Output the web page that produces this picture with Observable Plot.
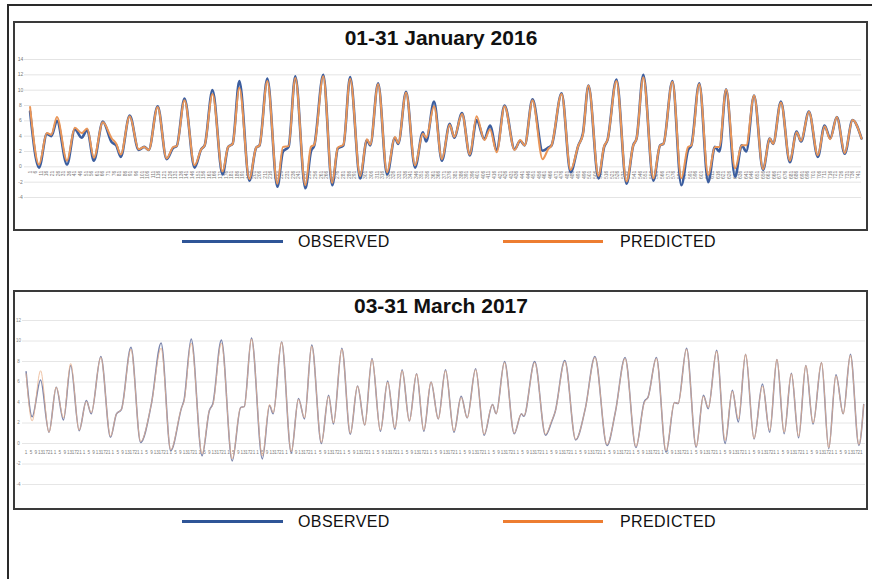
<!DOCTYPE html>
<html><head><meta charset="utf-8">
<script src="https://cdn.jsdelivr.net/npm/d3@7"></script>
<script src="https://cdn.jsdelivr.net/npm/@observablehq/plot@0.6"></script>
<style>
body{margin:0;background:#fff;font-family:"Liberation Sans",Arial,sans-serif}
#page{position:relative;width:872px;height:579px;overflow:hidden;background:#fff}
.abs{position:absolute}
.frameL{left:7px;top:4px;width:2px;height:580px;background:#2a2a2a}
.frameT{left:7px;top:4px;width:870px;height:2px;background:#2a2a2a}
.panel{left:13px;width:851px;border:2px solid #3a3a3a;background:#fff}
.title{left:14px;width:854px;text-align:center;font-weight:bold;font-size:21px;line-height:21px;color:#111}
.leg{font-size:16px;line-height:16px;letter-spacing:0.4px;color:#111}
.sw{height:3px}
.chart{left:14px}
.chart svg{overflow:visible}
</style></head>
<body><div id="page">
<div class="abs frameL"></div><div class="abs frameT"></div>
<div class="abs panel" style="top:21px;height:206px"></div>
<div class="abs panel" style="top:290px;height:216px"></div>
<div class="abs title" style="top:27px">01-31 January 2016</div>
<div class="abs title" style="top:295px">03-31 March 2017</div>
<div class="abs chart" id="c1" style="top:22px"></div>
<div class="abs chart" id="c2" style="top:292px"></div>
<div class="abs sw" style="left:182px;top:240px;width:101px;background:#2f5597"></div>
<div class="abs leg" style="left:298px;top:234px">OBSERVED</div>
<div class="abs sw" style="left:503px;top:240px;width:100px;background:#ed7d31"></div>
<div class="abs leg" style="left:620px;top:234px">PREDICTED</div>
<div class="abs sw" style="left:182px;top:520px;width:101px;background:#2f5597"></div>
<div class="abs leg" style="left:298px;top:514px">OBSERVED</div>
<div class="abs sw" style="left:503px;top:520px;width:100px;background:#ed7d31"></div>
<div class="abs leg" style="left:620px;top:514px">PREDICTED</div>
</div>
<script>
// ---- January 2016 (hourly index) ----
const janHours = [0,8,15,19,24,33,40,46,51,57,65,73,77,81,89,97,102,106,114,122,128,131,138,147,153,156,163,172,177,181,187,196,202,205,212,221,226,231,237,246,251,254,262,270,275,280,286,295,301,304,311,319,326,329,336,344,351,354,361,368,375,379,386,393,399,406,411,417,424,433,438,442,449,458,463,466,475,483,490,494,499,508,513,516,524,533,539,542,548,557,563,566,574,582,588,591,598,606,612,616,622,630,636,640,647,655,661,664,671,679,685,689,696,704,710,715,721,728,735,743];
const janObserved = [7.2,-0.1,4.3,4.0,6.0,0.3,4.9,3.8,4.8,0.8,5.9,3.2,2.8,1.3,6.7,2.2,2.6,2.2,7.9,1.0,2.5,2.7,8.9,-0.1,2.3,2.8,10.0,-1.0,2.6,3.0,11.2,-1.8,2.5,2.8,11.5,-2.6,2.0,2.6,11.8,-2.8,2.0,2.8,12.0,-2.4,2.4,2.8,11.7,-1.5,3.5,2.8,10.9,-1.0,3.8,3.0,9.8,-0.1,4.5,3.3,8.5,0.8,5.6,3.8,7.0,1.5,6.1,3.6,5.4,2.2,8.0,2.3,3.4,2.8,8.8,2.1,2.5,2.8,9.6,-0.7,2.8,4.3,10.6,-1.5,2.6,3.5,11.4,-2.2,2.8,3.7,12.0,-1.8,2.8,3.0,11.2,-2.4,2.2,2.8,10.9,-2.0,2.6,2.0,10.1,-1.3,2.8,2.0,9.3,-0.4,3.7,3.0,8.5,0.6,4.6,3.3,7.2,1.3,5.4,3.7,6.5,1.7,6.1,3.7];
const janPredicted = [7.8,0.3,4.4,4.2,6.5,0.8,5.1,4.4,5.0,1.2,5.8,3.7,3.0,1.6,6.6,2.3,2.6,2.2,7.8,1.1,2.6,2.7,8.7,0.2,2.3,2.8,9.5,-0.6,2.6,3.0,10.3,-1.6,2.5,2.8,11.2,-2.2,2.6,2.7,11.6,-2.4,2.6,2.9,11.8,-2.1,2.5,2.9,11.5,-1.2,3.6,2.9,10.8,-0.7,3.9,3.1,9.7,0.2,4.3,3.8,7.9,1.0,5.5,3.9,6.9,1.6,6.6,3.5,4.9,1.9,7.9,2.2,3.5,2.8,8.7,1.0,2.3,2.8,9.5,-0.4,2.8,4.2,10.6,-1.2,2.7,3.5,11.2,-1.9,2.8,3.7,11.7,-1.5,2.8,3.0,11.1,-1.5,2.6,2.8,10.8,-1.1,2.6,2.6,10.1,-0.2,2.8,2.8,9.3,-0.3,3.7,3.0,8.4,0.8,4.5,3.4,7.2,1.5,5.3,3.6,6.5,1.8,6.1,3.7];
const janYTicks = [14,12,10,8,6,4,2,0,-2,-4];

// ---- March 2017 (hourly index) ----
const marHours = [0,5,12,19,25,31,37,44,50,54,62,70,75,79,87,95,104,112,120,129,131,137,146,152,155,162,171,178,181,187,196,202,205,212,220,226,231,237,245,251,255,262,269,275,281,287,294,300,306,312,318,324,330,336,342,348,355,361,366,373,380,387,390,397,405,411,413,422,431,436,439,447,456,464,472,482,489,497,506,513,516,523,531,538,541,548,556,562,566,573,580,586,591,597,604,611,617,623,629,635,641,647,653,660,666,672,678,684,691,695];
const marObserved = [7.0,2.6,6.2,1.1,5.5,2.3,7.6,1.25,4.2,2.9,8.5,0.6,2.9,3.3,9.4,0.1,3.9,9.8,-0.7,3.5,4.2,10.2,-1.2,3.2,3.9,10.1,-1.7,3.5,3.6,10.3,-1.5,3.7,2.9,9.9,-0.9,4.4,2.4,9.6,0.0,4.7,1.9,9.3,0.9,5.6,1.8,8.3,1.2,6.1,1.4,7.2,2.2,6.8,1.2,6.0,2.4,7.2,1.1,4.6,2.5,7.3,0.8,3.8,2.9,8.0,0.95,2.9,2.65,8.0,0.8,2.1,3.1,8.1,0.35,3.4,8.5,-0.2,3.1,8.4,-0.4,4.1,4.5,8.4,-0.85,4.0,3.9,9.3,-0.35,4.7,3.4,9.1,0.0,5.2,2.1,8.7,0.45,5.8,1.1,8.2,0.95,6.85,0.55,7.6,1.9,7.9,-0.5,6.7,2.9,8.7,-0.2,3.8];
const marPredicted = [6.8,2.2,7.1,1.1,5.5,2.5,7.8,1.3,4.1,3.0,8.4,0.7,2.9,3.3,9.2,0.2,3.9,9.3,-0.6,3.5,4.1,9.8,-1.0,3.2,3.8,9.8,-1.5,3.5,3.6,10.2,-1.2,3.8,3.0,9.9,-0.8,4.3,2.5,9.5,0.1,4.6,2.0,9.2,1.0,5.6,1.8,8.2,1.3,6.0,1.5,7.1,2.2,6.8,1.3,6.0,2.4,7.1,1.2,4.5,2.5,7.2,0.9,3.8,2.9,7.9,1.0,2.9,2.7,7.9,0.9,2.2,3.1,8.0,0.4,3.4,8.4,-0.1,3.1,8.3,-0.3,4.0,4.5,8.3,-0.7,4.0,3.9,9.2,-0.3,4.6,3.5,9.0,0.3,5.1,2.4,8.7,0.5,5.6,1.3,8.2,1.1,6.8,0.7,7.6,2.0,7.9,-0.4,6.6,2.9,8.6,-0.1,3.8];
const marYTicks = [12,10,8,6,4,2,0,-2,-4];

const jan = janHours.map((h, i) => ({h, obs: janObserved[i], pred: janPredicted[i]}));
const mar = marHours.map((h, i) => ({h, obs: marObserved[i], pred: marPredicted[i]}));

const font = "Liberation Sans, Arial, sans-serif";

const p1 = Plot.plot({
  width: 854, height: 208,
  marginLeft: 10, marginRight: 7, marginTop: 37, marginBottom: 33,
  style: {background: "transparent", fontFamily: font},
  x: {domain: [-5, 743], axis: null},
  y: {domain: [-4, 14], axis: null},
  marks: [
    Plot.ruleY(janYTicks, {stroke: "#e4e4e4", strokeWidth: 1}),
    Plot.text(janYTicks, {x: -5, y: d => d, text: d => String(d), dx: -4, fontSize: 5, fill: "#7a7a7a", textAnchor: "middle"}),
    Plot.text(d3.range(0, 744, 5), {x: d => d, y: -0.5, text: d => String(d + 1), rotate: -90, textAnchor: "end", fontSize: 5, fill: "#7a7a7a"}),
    Plot.line(jan, {x: "h", y: "obs", stroke: "#3c5e9f", strokeWidth: 2.6, curve: "monotone-x"}),
    Plot.line(jan, {x: "h", y: "pred", stroke: "#ea9658", strokeWidth: 2, curve: "monotone-x"})
  ]
});
document.getElementById("c1").appendChild(p1);

const p2 = Plot.plot({
  width: 854, height: 218,
  marginLeft: 8, marginRight: 3, marginTop: 28, marginBottom: 26,
  style: {background: "transparent", fontFamily: font},
  x: {domain: [-3, 696.5], axis: null},
  y: {domain: [-4, 12], axis: null},
  marks: [
    Plot.ruleY(marYTicks, {stroke: "#e6e6e6", strokeWidth: 1}),
    Plot.text(marYTicks, {x: -3, y: d => d, text: d => String(d), dx: -4, fontSize: 4.5, fill: "#8a8a8a", textAnchor: "middle"}),
    Plot.text(d3.range(0, 696, 4), {x: d => d, y: -0.85, text: d => String(d % 24 + 1), fontSize: 4.6, fill: "#808080", textAnchor: "middle"}),
    Plot.line(mar, {x: "h", y: "obs", stroke: "#7c86ad", strokeWidth: 1.5, curve: "monotone-x"}),
    Plot.line(mar, {x: "h", y: "pred", stroke: "#e8b08a", strokeWidth: 0.9, strokeOpacity: 0.85, curve: "monotone-x"})
  ]
});
document.getElementById("c2").appendChild(p2);
</script>
</body></html>
